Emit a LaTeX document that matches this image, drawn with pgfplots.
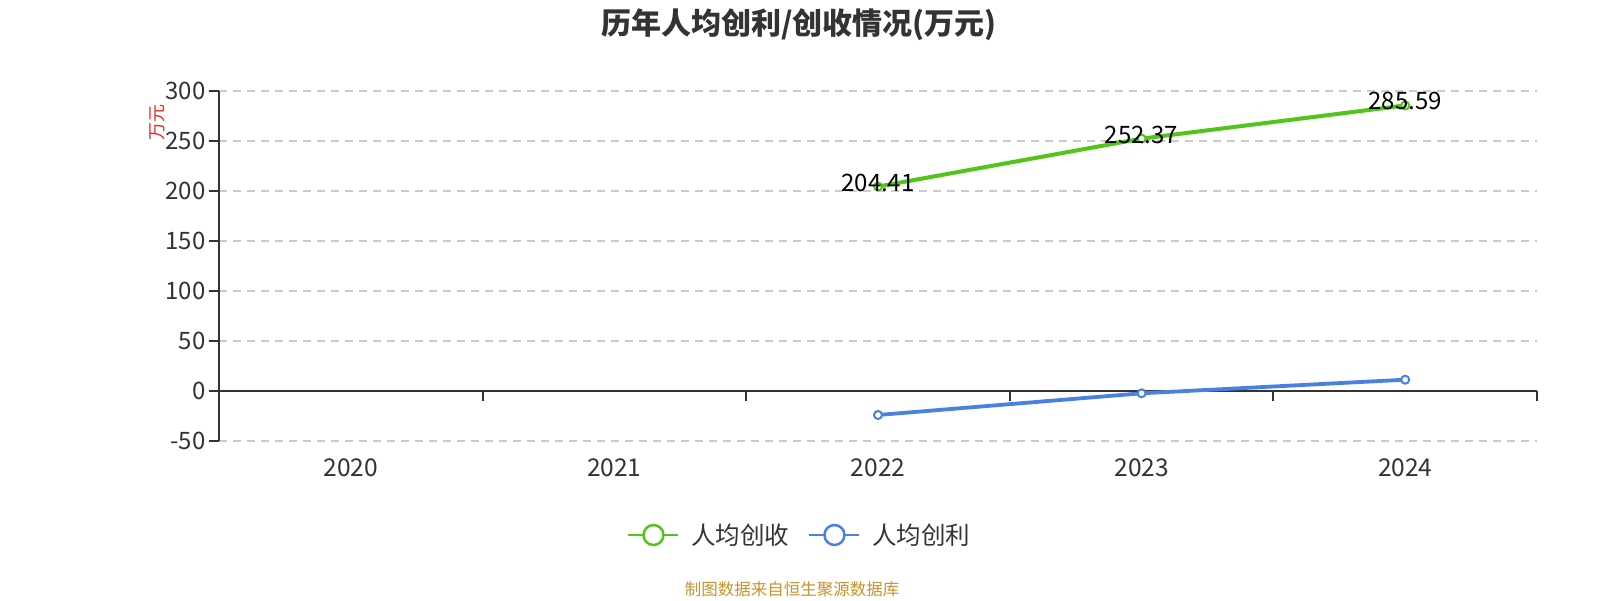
\documentclass[border=0pt]{standalone}
\usepackage{fontspec}
\setmainfont{Noto Sans CJK SC}
\usepackage{pgfplots}
\pgfplotsset{compat=1.18}
\definecolor{cgreen}{RGB}{82,196,26}
\definecolor{cblue}{RGB}{74,128,226}
\definecolor{ctext}{RGB}{51,51,51}
\definecolor{cgrid}{RGB}{204,204,204}
\definecolor{cfoot}{RGB}{200,147,44}
\definecolor{cred}{RGB}{235,40,40}
\begin{document}
\begin{tikzpicture}[x=1pt,y=1pt]
\path[use as bounding box] (0,0) rectangle (1600,600);
\node[font=\fontsize{30}{36}\selectfont\bfseries, text=ctext] at (799,575) {历年人均创利/创收情况(万元)};
\node[font=\fontsize{16.5}{20}\selectfont, text=cfoot] at (792,11) {制图数据来自恒生聚源数据库};
\begin{axis}[
  at={(219pt,159pt)}, anchor=south west,
  scale only axis, width=1318pt, height=350pt,
  clip=false,
  xmin=-0.5, xmax=4.5, ymin=-50, ymax=300,
  axis x line*=bottom, axis y line*=left,
  x axis line style={draw=none},
  y axis line style={ctext, line width=2pt, -},
  xtick={0,1,2,3,4}, xticklabels={2020,2021,2022,2023,2024},
  xtick style={draw=none},
  xticklabel style={font=\fontsize{24.5}{28}\selectfont, text=ctext, yshift=-4pt},
  ytick={-50,50,100,150,200,250,300},
  extra y ticks={0},
  extra y tick style={grid=major, major grid style={solid, ctext, line width=2pt}},
  ytick style={ctext, line width=2pt},
  tick align=outside, major tick length=10pt,
  yticklabel style={font=\fontsize{24}{28}\selectfont, text=ctext},
  /pgf/number format/assume math mode=true,
  ymajorgrids,
  major grid style={cgrid, dash pattern=on 8pt off 6pt, line width=1.5pt},
  ylabel={万元},
  ylabel style={at={(rel axis cs:-0.047,0.9086)}, anchor=center, font=\fontsize{18}{20}\selectfont, text=cred},
  legend columns=2,
  legend style={at={(rel axis cs:0.4408,-0.2686)}, anchor=center, draw=none, fill=none,
    font=\fontsize{24.5}{28}\selectfont, text=ctext,
    /tikz/every odd column/.append style={column sep=10pt},
    /tikz/every even column/.append style={column sep=17pt}},
  legend image code/.code={
    \draw[line width=2pt] (0pt,0pt) -- (50pt,0pt);
    \draw[line width=2.5pt, fill=white] (25pt,0pt) circle (10pt);
  },
]
\addplot[cgreen, line width=4pt, mark=*, mark size=4pt, mark options={fill=white, line width=2pt},
  nodes near coords, point meta=explicit symbolic,
  nodes near coords style={anchor=center, yshift=4pt, text=black, font=\fontsize{24}{28}\selectfont}]
  coordinates {(2,204.41)[204.41] (3,252.37)[252.37] (4,285.59)[285.59]};
\addlegendentry{人均创收}
\addplot[cblue, line width=3.8pt, mark=*, mark size=4pt, mark options={fill=white, line width=2pt}]
  coordinates {(2,-24) (3,-2.3) (4,11.3)};
\addlegendentry{人均创利}
\draw[ctext, line width=2pt] (axis cs:0.5,0) -- ++(0pt,-10pt);
\draw[ctext, line width=2pt] (axis cs:1.5,0) -- ++(0pt,-10pt);
\draw[ctext, line width=2pt] (axis cs:2.5,0) -- ++(0pt,-10pt);
\draw[ctext, line width=2pt] (axis cs:3.5,0) -- ++(0pt,-10pt);
\draw[ctext, line width=2pt] (axis cs:4.5,0) -- ++(0pt,-10pt);
\end{axis}
\end{tikzpicture}
\end{document}
